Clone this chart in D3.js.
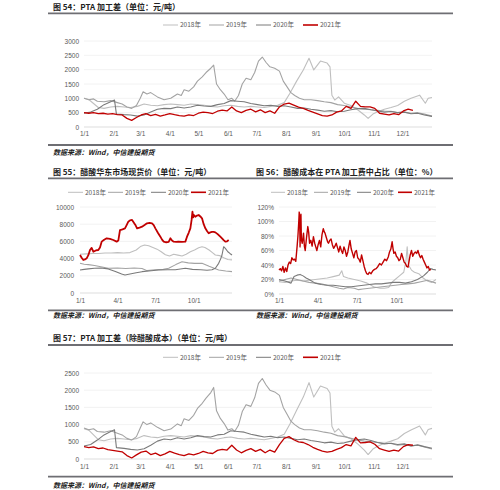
<!DOCTYPE html>
<html><head><meta charset="utf-8">
<script src="https://cdn.jsdelivr.net/npm/d3@7"></script>
<style>
body{margin:0;background:#fff;}
svg{display:block;}
text{font-family:"Liberation Sans","Noto Sans CJK SC",sans-serif;}
</style></head><body>
<svg id="c" width="500" height="490"></svg>
<script>
// ---------- shared labels ----------
const seriesNames = ['2018年','2019年','2020年','2021年'];
const monthDays = [0,31,59,90,120,151,181,212,243,273,304,334];
const monthLabels = ['1/1','2/1','3/1','4/1','5/1','6/1','7/1','8/1','9/1','10/1','11/1','12/1'];
const quarterDays = [0,90,181,273];
const quarterLabels = ['1/1','4/1','7/1','10/1'];
const ticks54 = [0,500,1000,1500,2000,2500,3000];
const ticks55 = [0,2000,4000,6000,8000,10000];
const ticks56 = [0,20,40,60,80,100,120];
const ticks57 = [0,500,1000,1500,2000,2500];

// ---------- 图54 PTA加工差 [day-of-year, 元/吨] ----------
const c54_2018 = [[0,1000],[5,960],[10,820],[15,680],[21,650],[28,700],[35,720],[42,700],[49,680],[56,720],[63,800],[70,760],[77,740],[84,780],[91,800],[98,780],[105,760],[112,800],[119,780],[126,760],[133,720],[140,700],[147,740],[154,760],[161,720],[168,700],[175,720],[182,700],[189,680],[196,720],[203,760],[210,850],[216,1180],[223,1600],[230,1990],[236,2400],[241,1990],[248,2300],[255,2230],[258,2100],[260,1110],[263,940],[267,1050],[273,830],[280,750],[287,600],[294,420],[298,300],[303,450],[308,530],[315,620],[322,680],[329,750],[336,900],[343,1000],[352,1110],[358,830],[361,1000],[365,1030]];
const c54_2019 = [[0,1000],[5,950],[10,980],[14,900],[21,880],[28,920],[35,850],[40,800],[45,700],[50,650],[55,750],[59,1000],[62,1230],[66,1150],[70,1200],[77,1050],[84,950],[91,1000],[98,1150],[102,1100],[105,1300],[110,1250],[115,1400],[119,1600],[124,1750],[128,1900],[133,2050],[136,2160],[139,1500],[143,1300],[147,1150],[151,950],[155,1000],[158,900],[162,1100],[166,1500],[170,1700],[175,1650],[179,1900],[183,2300],[187,2440],[191,2250],[195,2100],[200,2050],[205,1950],[209,1600],[213,1400],[217,1200],[221,1100],[226,1000],[231,950],[238,950],[245,920],[252,880],[259,850],[266,780],[273,750],[280,700],[287,650],[294,620],[301,600],[308,580],[315,560],[322,550],[329,500],[336,520],[343,480],[350,500],[357,450],[365,380]];
const c54_2020 = [[0,480],[7,520],[14,620],[21,780],[28,880],[32,940],[34,450],[42,430],[49,420],[56,380],[63,420],[70,520],[77,620],[84,650],[91,640],[98,700],[105,660],[112,700],[119,760],[126,730],[133,720],[140,780],[147,820],[154,920],[161,900],[168,880],[175,820],[182,780],[189,740],[196,760],[203,720],[210,740],[217,700],[224,650],[231,660],[238,620],[245,590],[252,550],[259,570],[266,530],[273,550],[280,600],[287,640],[294,650],[301,600],[308,560],[315,520],[322,540],[329,500],[336,520],[343,460],[350,480],[357,420],[365,370]];
const c54_2021 = [[0,500],[5,480],[10,500],[15,470],[20,480],[25,450],[30,470],[35,430],[40,420],[45,300],[50,230],[55,330],[60,420],[65,470],[70,400],[75,440],[80,380],[85,420],[90,470],[95,430],[100,400],[105,380],[110,420],[115,400],[120,480],[125,520],[130,500],[135,470],[140,550],[145,590],[150,560],[155,700],[160,560],[165,500],[170,580],[175,620],[180,530],[185,600],[190,500],[195,560],[200,480],[205,700],[210,800],[215,830],[220,760],[225,690],[230,650],[235,580],[240,520],[245,460],[250,400],[255,380],[260,420],[265,520],[270,560],[275,720],[280,650],[285,900],[290,720],[295,700],[300,700],[305,650],[310,480],[315,450],[320,420],[325,470],[330,430],[335,560],[340,620],[345,580]];

// ---------- 图55 醋酸华东市场现货价 [day, 元/吨] ----------
const c55_2018 = [[0,4500],[15,4550],[30,4600],[45,4600],[60,4650],[75,4650],[90,4700],[105,4650],[120,4700],[135,5000],[145,5400],[155,5580],[165,5500],[175,5300],[185,5100],[195,4800],[205,4450],[215,4300],[225,4500],[235,4400],[245,4300],[255,4500],[265,4800],[275,5000],[285,5250],[293,5380],[300,5300],[310,5000],[318,4700],[325,4420],[335,4350],[345,4100],[355,3900],[365,3850]];
const c55_2019 = [[0,3450],[10,3350],[20,3300],[35,3200],[50,3050],[68,2870],[90,2900],[110,2850],[130,2900],[149,2850],[161,2600],[180,2700],[200,2750],[213,2870],[230,3300],[245,3640],[260,3500],[275,3450],[293,3450],[310,3100],[333,2670],[350,2550],[365,2480]];
const c55_2020 = [[0,2670],[10,2750],[20,2800],[35,2870],[50,2900],[68,2800],[85,2500],[100,2200],[108,2090],[120,2200],[135,2350],[149,2480],[165,2550],[189,2670],[210,2700],[229,2700],[253,2870],[270,2750],[290,2700],[305,2650],[317,2700],[325,2870],[333,3450],[338,4000],[341,4420],[345,5380],[349,5190],[355,4800],[360,4600],[365,4420]];
const c55_2021 = [[0,4420],[4,4100],[8,3840],[12,3900],[16,4030],[20,4400],[24,5000],[28,5250],[32,4800],[38,4950],[44,5000],[48,5300],[52,5970],[58,6200],[64,6360],[72,6300],[80,6160],[88,5970],[92,6100],[96,7300],[102,7400],[108,7520],[112,7900],[116,8290],[120,8450],[125,8490],[129,8200],[133,7910],[137,7520],[143,7600],[149,7710],[155,7900],[161,8100],[167,8150],[173,8100],[177,7900],[181,7520],[187,7000],[193,6550],[197,6200],[201,5970],[207,5900],[213,5950],[217,6360],[221,6100],[225,5970],[231,5950],[236,5970],[245,5950],[253,5970],[257,6550],[261,7000],[265,7520],[268,8500],[270,9450],[272,8800],[273,9070],[277,8870],[281,9000],[285,9070],[289,8900],[293,8680],[297,8000],[301,7520],[305,7200],[309,6940],[313,7050],[317,7100],[321,7100],[325,7050],[329,6900],[333,6740],[337,6550],[341,6360],[345,6150],[349,5970],[353,6000],[357,6160]];

// ---------- 图56 醋酸成本在PTA加工费中占比 [day, %] ----------
const c56_2018 = [[0,17],[14,16],[28,18],[42,19],[56,18],[70,19],[84,20],[98,21],[112,22],[126,24],[140,26],[146,32],[150,24],[160,22],[175,20],[190,18],[205,15],[220,10],[235,8],[245,8],[255,9],[262,16],[270,20],[280,25],[290,30],[295,45],[298,65],[301,40],[308,33],[315,30],[325,28],[335,22],[345,18],[355,16],[365,20]];
const c56_2019 = [[0,18],[14,20],[28,22],[42,20],[56,18],[70,16],[84,15],[98,14],[112,12],[126,10],[140,8],[150,7],[160,9],[175,8],[185,6],[195,7],[210,8],[225,9],[240,10],[255,11],[270,12],[285,13],[300,14],[315,15],[330,17],[345,19],[365,15]];
const c56_2020 = [[0,20],[14,18],[28,15],[35,24],[42,26],[49,27],[56,25],[63,22],[70,20],[84,15],[98,13],[112,12],[126,12],[140,11],[154,10],[168,10],[182,11],[196,12],[210,13],[224,14],[238,14],[252,15],[266,16],[280,16],[294,15],[308,17],[322,20],[336,25],[345,30],[352,35],[358,34],[365,33]];
const c56_2021 = [[0,33],[3,35],[6,32],[9,38],[12,30],[15,36],[18,31],[21,40],[24,44],[27,42],[30,50],[33,47],[36,48],[39,45],[42,65],[44,80],[46,100],[47,113],[48,105],[49,65],[50,102],[51,110],[52,75],[54,70],[57,84],[59,66],[61,60],[64,78],[67,93],[69,85],[71,70],[74,74],[77,66],[80,79],[83,70],[86,64],[88,60],[91,68],[94,74],[97,65],[100,82],[103,90],[105,86],[107,84],[110,78],[113,72],[115,70],[118,74],[121,76],[124,68],[127,63],[130,66],[133,70],[136,64],[139,58],[142,66],[145,60],[148,56],[151,65],[154,60],[157,52],[160,58],[163,68],[165,74],[168,62],[171,56],[174,50],[177,58],[180,60],[183,50],[186,48],[189,44],[192,54],[195,46],[198,38],[201,32],[204,28],[207,27],[210,30],[214,28],[218,32],[222,34],[226,35],[230,38],[234,42],[238,40],[242,44],[246,48],[250,46],[254,51],[257,58],[260,62],[263,72],[265,63],[267,56],[270,58],[273,52],[276,50],[279,46],[282,48],[285,56],[288,50],[291,44],[294,42],[297,38],[300,37],[302,44],[305,54],[308,60],[311,52],[314,56],[317,58],[320,56],[323,60],[326,54],[329,50],[332,53],[335,48],[338,44],[341,40],[344,36],[347,38],[350,33],[353,34]];

// ---------- 图57 PTA加工差（除醋酸成本）[day, 元/吨] ----------
const c57_2018 = [[0,880],[5,840],[10,700],[15,560],[21,530],[28,580],[35,600],[42,580],[49,560],[56,600],[63,680],[70,640],[77,620],[84,660],[91,680],[98,660],[105,640],[112,680],[119,660],[126,640],[133,600],[140,580],[147,620],[154,640],[161,600],[168,580],[175,600],[182,580],[189,560],[196,600],[203,640],[210,720],[216,1020],[223,1420],[230,1800],[236,2220],[241,1800],[248,2120],[255,2050],[258,1920],[260,950],[263,780],[267,880],[273,670],[280,590],[287,440],[294,260],[298,130],[303,290],[308,370],[315,460],[322,520],[329,590],[336,740],[343,840],[352,960],[358,700],[361,860],[365,890]];
const c57_2019 = [[0,900],[5,850],[10,880],[14,800],[21,780],[28,820],[35,750],[40,700],[45,600],[50,550],[55,650],[59,900],[62,1080],[66,1000],[70,1050],[77,920],[84,820],[91,870],[98,1020],[102,970],[105,1170],[110,1120],[115,1270],[119,1470],[124,1620],[128,1770],[133,1930],[136,2080],[139,1400],[143,1180],[147,1030],[151,840],[155,880],[158,800],[162,980],[166,1380],[170,1580],[175,1530],[179,1780],[183,2200],[187,2340],[191,2150],[195,2000],[200,1950],[205,1850],[209,1500],[213,1300],[217,1100],[221,1000],[226,900],[231,850],[238,850],[245,820],[252,780],[259,750],[266,680],[273,650],[280,600],[287,550],[294,520],[301,500],[308,480],[315,460],[322,450],[329,400],[336,420],[343,380],[350,400],[357,350],[365,290]];
const c57_2020 = [[0,380],[7,420],[14,550],[21,700],[28,800],[32,850],[34,330],[42,310],[49,280],[56,260],[63,300],[70,400],[77,520],[84,580],[91,560],[98,620],[105,580],[112,620],[119,680],[126,650],[133,640],[140,700],[147,720],[154,820],[161,800],[168,780],[175,720],[182,680],[189,640],[196,660],[203,620],[210,640],[217,600],[224,560],[231,580],[238,540],[245,510],[252,470],[259,490],[266,450],[273,470],[280,520],[287,560],[294,580],[301,540],[308,480],[315,440],[322,460],[329,420],[336,440],[343,380],[350,410],[357,360],[365,310]];
const c57_2021 = [[0,360],[5,330],[10,350],[15,300],[20,320],[25,270],[30,250],[35,230],[40,210],[45,100],[50,30],[55,120],[60,200],[65,230],[70,130],[75,170],[80,100],[85,150],[90,220],[95,170],[100,130],[105,100],[110,150],[115,120],[120,160],[125,220],[130,180],[135,160],[140,250],[145,280],[150,260],[155,400],[160,260],[165,180],[170,250],[175,300],[180,220],[185,280],[190,180],[195,260],[200,200],[205,420],[210,600],[215,650],[220,560],[225,500],[230,480],[235,420],[240,340],[245,280],[250,230],[255,200],[260,220],[265,280],[270,330],[275,420],[280,380],[285,630],[290,470],[295,480],[300,500],[305,430],[310,300],[315,260],[320,220],[325,260],[330,230],[335,360],[340,420],[345,400]];

// ---------- drawing ----------
const svg = d3.select('#c');
const colors = ['#bfbfbf','#a3a3a3','#7a7a7a','#c00000'];
const cjk = '"Noto Sans CJK SC","Liberation Sans",sans-serif';

function rule(x1,x2,yy){
  svg.append('line').attr('x1',x1).attr('x2',x2).attr('y1',yy).attr('y2',yy)
    .attr('stroke','#6e6e73').attr('stroke-width',1.8);
}
function title(txt,x,yy){
  svg.append('text').attr('x',x).attr('y',yy).text(txt)
    .style('font-family',cjk).style('font-size','8px').style('font-weight','bold').attr('fill','#222');
}
function source(x,yy){
  svg.append('text').attr('x',x).attr('y',yy).text('数据来源：Wind，中信建投期货')
    .style('font-family',cjk).style('font-size','7px').style('font-weight','bold')
    .style('font-style','italic').attr('fill','#222');
}

function panel(o){
  const x = d3.scaleLinear().domain([0,365]).range([o.x0,o.x1]);
  const y = d3.scaleLinear().domain([0,o.ymax]).range([o.y0,o.y1]);
  const g = svg.append('g');
  g.selectAll('line.grid').data(o.yTicks).join('line').attr('class','grid')
    .attr('x1',o.x0).attr('x2',o.x1).attr('y1',d=>y(d)).attr('y2',d=>y(d))
    .attr('stroke',d=>d===0?'#d4d4d4':'#efefef').attr('stroke-width',0.8);
  const ya = g.append('g').attr('transform',`translate(${o.yLabelRight},0)`)
    .call(d3.axisLeft(y).tickValues(o.yTicks).tickSize(0).tickPadding(0).tickFormat(o.yFmt));
  ya.select('.domain').remove();
  ya.selectAll('text').attr('fill','#595959').style('font-size','6.5px');
  const xa = g.append('g').attr('transform',`translate(0,${o.xLabelY-2.3})`)
    .call(d3.axisBottom(x).tickValues(o.xTicks).tickSize(0).tickPadding(0).tickFormat((d,i)=>o.xLabels[i]));
  xa.select('.domain').remove();
  xa.selectAll('text').attr('fill','#595959').style('font-size','6.5px');
  const line = d3.line().x(d=>x(d[0])).y(d=>y(d[1]));
  o.series.forEach((s,i)=>{
    g.append('path').datum(s).attr('d',line).attr('fill','none')
      .attr('stroke',colors[i]).attr('stroke-width',o.widths[i]).attr('stroke-linejoin','round');
  });
  // legend
  o.legend.forEach((lx,i)=>{
    g.append('line').attr('x1',lx).attr('x2',lx+o.legLen).attr('y1',o.legY).attr('y2',o.legY)
      .attr('stroke',colors[i]).attr('stroke-width',i===3?1.6:1);
    g.append('text').attr('x',lx+o.legLen+2).attr('y',o.legY+2.3).text(seriesNames[i])
      .style('font-family',cjk).style('font-size','6.5px').attr('fill','#595959');
  });
}

// 图54
title('图 54：PTA 加工差（单位：元/吨）',53,9.5);
rule(48,453,13.3);
panel({x0:84,x1:432,y0:127,y1:41,ymax:3000,yTicks:ticks54,yFmt:d=>d,yLabelRight:79,
  xTicks:monthDays,xLabels:monthLabels,xLabelY:134,
  series:[c54_2018,c54_2019,c54_2020,c54_2021],widths:[1.1,1.1,1.1,1.3],
  legend:[163,209,256,303],legLen:15,legY:25});
rule(48,453,145);
source(53,155);

// 图55 / 图56
title('图 55：醋酸华东市场现货价（单位：元/吨）',53,175);
title('图 56：醋酸成本在 PTA 加工费中占比（单位：%）',256,175);
rule(48,453,178.3);
panel({x0:80,x1:232,y0:293,y1:207,ymax:10000,yTicks:ticks55,yFmt:d=>d,yLabelRight:74,
  xTicks:quarterDays,xLabels:quarterLabels,xLabelY:300.7,
  series:[c55_2018,c55_2019,c55_2020,c55_2021],widths:[1.1,1.1,1.1,1.8],
  legend:[68,108,151,191],legLen:15,legY:192.3});
panel({x0:279,x1:436,y0:294,y1:207,ymax:120,yTicks:ticks56,yFmt:d=>d+'%',yLabelRight:274,
  xTicks:quarterDays,xLabels:quarterLabels,xLabelY:300.3,
  series:[c56_2018,c56_2019,c56_2020,c56_2021],widths:[1.1,1.1,1.1,1.4],
  legend:[271,314,357,398],legLen:14,legY:192.3});
rule(48,453,310.3);
source(53,318);
source(256,318);

// 图57
title('图 57：PTA 加工差（除醋酸成本）（单位：元/吨）',53,341);
rule(48,453,345);
panel({x0:84,x1:432,y0:459,y1:373,ymax:2500,yTicks:ticks57,yFmt:d=>d,yLabelRight:79,
  xTicks:monthDays,xLabels:monthLabels,xLabelY:466.7,
  series:[c57_2018,c57_2019,c57_2020,c57_2021],widths:[1.1,1.1,1.1,1.3],
  legend:[163,209,256,303],legLen:15,legY:357.3});
rule(48,453,476.7);
source(53,488);
</script>
</body></html>
